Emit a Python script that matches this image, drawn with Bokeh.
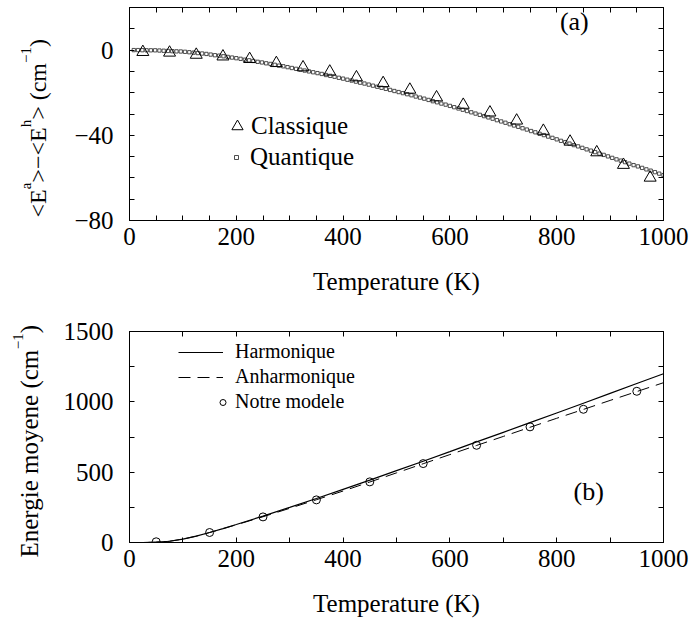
from math import pi

from bokeh.embed import file_html
from bokeh.layouts import column, row
from bokeh.models import FixedTicker, Label, Legend, LegendItem, LinearAxis
from bokeh.plotting import figure
from bokeh.resources import INLINE

FONT = "Liberation Serif"

# ---- panel (a): anharmonic minus harmonic mean energy ----
temp_classique = [25, 75, 125, 175, 225, 275, 325, 375, 425, 475,
                  525, 575, 625, 675, 725, 775, 825, 875, 925, 975]
delta_classique = [-0.9, -1.2, -2.2, -3.0, -4.2, -6.1, -8.1, -10.1, -12.8, -15.5,
                   -18.6, -22.2, -25.7, -29.3, -33.1, -37.9, -43.0, -48.0, -53.9, -59.9]

temp_quantique = [8, 16, 24, 32, 40, 48, 56, 64, 72, 80, 88, 96, 104, 112, 120, 128,
                  136, 144, 152, 160, 168, 176, 184, 192, 200, 208, 216, 224, 232, 240,
                  248, 256, 264, 272, 280, 288, 296, 304, 312, 320, 328, 336, 344, 352,
                  360, 368, 376, 384, 392, 400, 408, 416, 424, 432, 440, 448, 456, 464,
                  472, 480, 488, 496, 504, 512, 520, 528, 536, 544, 552, 560, 568, 576,
                  584, 592, 600, 608, 616, 624, 632, 640, 648, 656, 664, 672, 680, 688,
                  696, 704, 712, 720, 728, 736, 744, 752, 760, 768, 776, 784, 792, 800,
                  808, 816, 824, 832, 840, 848, 856, 864, 872, 880, 888, 896, 904, 912,
                  920, 928, 936, 944, 952, 960, 968, 976, 984, 992, 1000]
delta_quantique = [0.0, 0.0, -0.05, -0.1, -0.1, -0.1, -0.2, -0.3, -0.4, -0.5,
                   -0.6, -0.65, -0.8, -1.0, -1.2, -1.4, -1.6, -1.8, -2.1, -2.4,
                   -2.6, -2.9, -3.2, -3.5, -3.8, -4.1, -4.5, -4.8, -5.1, -5.5,
                   -5.8, -6.2, -6.5, -6.9, -7.3, -7.6, -8.0, -8.4, -8.8, -9.2,
                   -9.6, -10.0, -10.4, -10.8, -11.2, -11.7, -12.1, -12.5, -13.0, -13.4,
                   -13.9, -14.3, -14.8, -15.3, -15.7, -16.2, -16.7, -17.2, -17.7, -18.2,
                   -18.7, -19.2, -19.7, -20.2, -20.7, -21.2, -21.8, -22.3, -22.8, -23.4,
                   -24.0, -24.5, -25.1, -25.6, -26.2, -26.8, -27.4, -28.0, -28.6, -29.2,
                   -29.8, -30.4, -31.0, -31.6, -32.2, -32.9, -33.5, -34.1, -34.8, -35.4,
                   -36.0, -36.7, -37.3, -38.0, -38.6, -39.3, -39.9, -40.6, -41.2, -41.9,
                   -42.6, -43.2, -43.9, -44.6, -45.2, -45.9, -46.6, -47.2, -47.9, -48.6,
                   -49.2, -49.9, -50.6, -51.3, -51.9, -52.6, -53.3, -54.0, -54.6, -55.3,
                   -56.0, -56.6, -57.3, -58.0, -58.7]

# ---- panel (b): mean energy ----
temp_curve = [0, 25, 50, 75, 100, 125, 150, 175, 200, 250, 300, 350, 400, 450,
              500, 550, 600, 650, 700, 750, 800, 850, 900, 950, 1000]
energy_harmonique = [0, 0, 2, 9, 24, 45, 71, 99, 128, 188, 250, 313, 378, 443,
                     511, 578, 646, 715, 783, 852, 921, 990, 1060, 1130, 1200]
energy_anharmonique = [0, 0, 2, 9, 24, 45, 71, 98, 126, 183, 243, 304, 366, 430,
                       495, 560, 625, 690, 754, 819, 883, 946, 1010, 1073, 1136]
temp_modele = [50, 150, 250, 350, 450, 550, 650, 750, 850, 950]
energy_modele = [5, 71, 182, 303, 431, 561, 691, 822, 947, 1075]

# ---- ticks ----
x_labelled = [0, 200, 400, 600, 800, 1000]
xa_minor = [50, 100, 150, 250, 300, 350, 450, 500, 550, 650, 700, 750, 850, 900, 950]
xb_minor = [100, 300, 500, 700, 900]
ya_labelled = [-80, -40, 0]
ya_minor = [-70, -60, -50, -30, -20, -10, 10]
yb_labelled = [0, 500, 1000, 1500]
yb_minor = [250, 750, 1250]

# Times-compatible advance widths (em) used to chain rotated text pieces
SERIF_EM = {"<": 0.564, ">": 0.564, "E": 0.611, "−": 0.564, " ": 0.25, "(": 0.333,
            ")": 0.333, "c": 0.444, "m": 0.778, "a": 0.444, "h": 0.5, "1": 0.5,
            "n": 0.5, "e": 0.444, "r": 0.333, "g": 0.5, "i": 0.278, "o": 0.5, "y": 0.5}

STRIP_W = 60     # width of the strip holding the rotated y titles
PAGE_H = 619
FRAME_LEFT = 69  # left border of both panels (their frames share a left edge)
FRAME_W = 534


def em_width(s):
    return sum(SERIF_EM[c] for c in s)


def style_axis(axis, ticks, minor, size="25px"):
    axis.ticker = FixedTicker(ticks=ticks, minor_ticks=minor)
    axis.axis_line_color = "black"
    axis.major_tick_line_color = "black"
    axis.minor_tick_line_color = "black"
    axis.major_tick_in = 5
    axis.major_tick_out = 0
    axis.minor_tick_in = 5
    axis.minor_tick_out = 0
    axis.major_label_text_font = FONT
    axis.major_label_text_font_size = size
    axis.major_label_text_color = "black"
    axis.axis_label_text_font = FONT
    axis.axis_label_text_font_size = size
    axis.axis_label_text_font_style = "normal"
    axis.axis_label_text_color = "black"


def make_panel(frame_h, top, bottom, yr, xminor, ylab, yminor):
    p = figure(frame_width=FRAME_W, frame_height=frame_h, x_range=(0, 1000), y_range=yr,
               output_backend="svg", toolbar_location=None,
               min_border_left=FRAME_LEFT, min_border_right=29,
               min_border_top=top, min_border_bottom=bottom)
    p.grid.visible = False
    p.outline_line_color = "black"
    p.background_fill_color = "white"
    p.border_fill_color = "white"
    xb = p.below[0]
    yl = p.left[0]
    style_axis(xb, x_labelled, xminor)
    style_axis(yl, ylab, yminor)
    xb.axis_label = "Temperature (K)"
    xb.major_label_standoff = 7
    xb.axis_label_standoff = 20
    yl.major_label_standoff = 16
    # mirrored ticks on the top and right edges, without labels
    top_axis = LinearAxis()
    style_axis(top_axis, [], x_labelled + xminor)
    p.add_layout(top_axis, "above")
    right_axis = LinearAxis()
    style_axis(right_axis, [], ylab + yminor)
    p.add_layout(right_axis, "right")
    return p


def add_vertical_title(s, pieces, x0, y0, size, sup_size, sup_shift):
    """Chain rotated text pieces upwards; superscripts sit further left."""
    y = y0
    for text, sup in pieces:
        fs = sup_size if sup else size
        s.add_layout(Label(x=x0 - sup_shift if sup else x0, y=y, text=text, angle=pi / 2,
                           text_font=FONT, text_font_size=f"{fs}px", text_color="black",
                           text_align="left", text_baseline="alphabetic"))
        y += em_width(text) * fs


def plain_legend(items, loc, gw, gh, standoff, spacing, size):
    return Legend(items=items, location=loc, glyph_width=gw, glyph_height=gh,
                  label_height=gh, label_standoff=standoff, spacing=spacing,
                  padding=0, margin=0, border_line_color=None, background_fill_alpha=0,
                  label_text_font=FONT, label_text_font_size=size, label_text_color="black")


# ================= panel (a) =================
pa = make_panel(213, 7, 80, (-80, 20), xa_minor, ya_labelled, ya_minor)
pa.left[0].major_label_overrides = {-80: "−80", -40: "−40", 0: "0"}

sq = pa.scatter(temp_quantique, delta_quantique, marker="square", size=3.3,
                fill_color=None, line_color="#222222", line_width=0.8)
tri = pa.scatter(temp_classique, delta_classique, marker="triangle", size=12,
                 fill_color=None, line_color="black", line_width=1)

pa.add_layout(plain_legend([LegendItem(label="Classique", renderers=[tri])],
                           (94, 78), 28, 32, 0, 0, "25px"), "center")
pa.add_layout(plain_legend([LegendItem(label="Quantique", renderers=[sq])],
                           (102, 49), 10, 28, 9, 0, "25px"), "center")

pa.add_layout(Label(x=833, y=13.2, text="(a)", text_font=FONT, text_font_size="26px",
                    text_align="center", text_baseline="middle", text_color="black"))

# ================= panel (b) =================
pb = make_panel(211, 31, 77, (0, 1500), xb_minor, yb_labelled, yb_minor)

harm = pb.line(temp_curve, energy_harmonique, line_color="black", line_width=1.2)
anh = pb.line(temp_curve, energy_anharmonique, line_color="black", line_width=1,
              line_dash="12 7")
circ = pb.scatter(temp_modele, energy_modele, marker="circle", size=8,
                  fill_color=None, line_color="black", line_width=1)

pb.add_layout(plain_legend([LegendItem(label="Harmonique", renderers=[harm]),
                            LegendItem(label="Anharmonique", renderers=[anh])],
                           (49, 154), 45, 22, 12, 2, "20px"), "center")
pb.add_layout(plain_legend([LegendItem(label="Notre modele", renderers=[circ])],
                           (86, 129), 15, 22, 5, 0, "20px"), "center")

pb.add_layout(Label(x=860, y=360, text="(b)", text_font=FONT, text_font_size="26px",
                    text_align="center", text_baseline="middle", text_color="black"))

# ================= y titles =================
# one axis-less strip for the whole page height; its ranges are in pixels
# (x from the left edge, y up from the bottom edge)
strip = figure(frame_width=STRIP_W, frame_height=PAGE_H,
               x_range=(0, STRIP_W), y_range=(0, PAGE_H),
               x_axis_type=None, y_axis_type=None, min_border=0, title_location=None,
               output_backend="svg", toolbar_location=None)
strip.grid.visible = False
strip.outline_line_color = None
strip.background_fill_color = "white"
strip.border_fill_color = "white"

add_vertical_title(strip, [("<E", False), ("a", True), (">−<E", False), ("h", True),
                           ("> (cm", False), ("−1", True), (")", False)],
                   x0=37, y0=402, size=24, sup_size=15, sup_shift=12)
add_vertical_title(strip, [("Energie moyene (cm", False), ("−1", True), (")", False)],
                   x0=29, y0=62, size=25, sup_size=15, sup_shift=12)

layout = row(strip, column(pa, pb, spacing=0), spacing=0)
open("out.html", "w").write(file_html(layout, INLINE))
